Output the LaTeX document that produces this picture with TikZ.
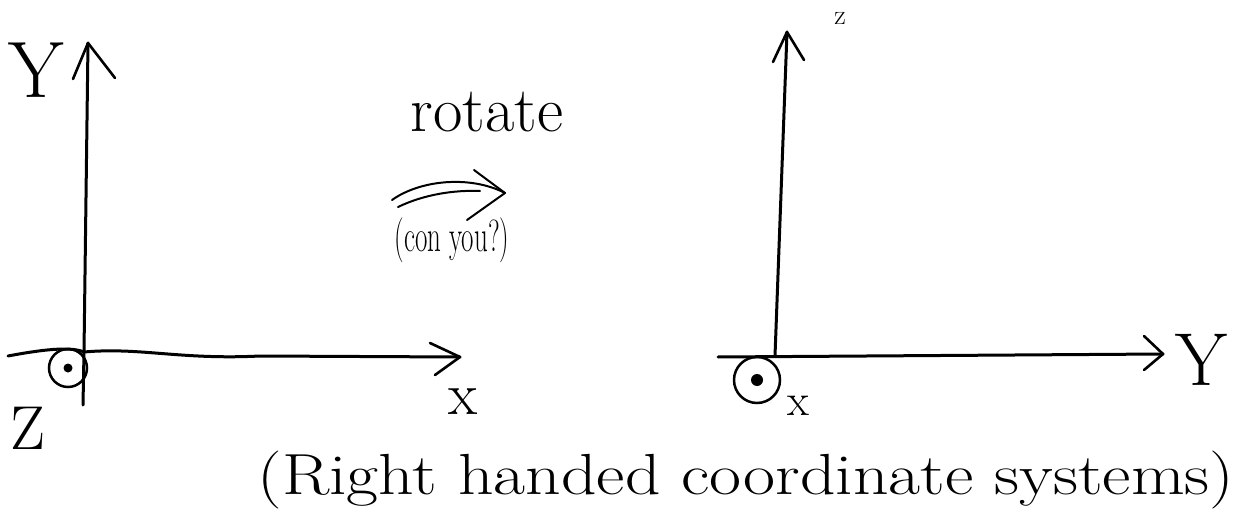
\documentclass[tikz,border=0pt]{standalone}
\begin{document}
\begin{tikzpicture}[x=1pt,y=-1pt,
  axis/.style={line width=3pt,line cap=round,line join=round},
  head/.style={line width=2.6pt,line cap=round,line join=round},
  lbl/.style={inner sep=0pt,font=\fontsize{#1}{#1}\selectfont},
  lbl/.default=50]
\useasboundingbox (0,0) rectangle (1251,524);
% ---------- left system ----------
\coordinate (o1) at (84,352);
\coordinate (y1top) at (88,43);
\coordinate (y1bot) at (83,405);
\coordinate (x1left) at (8,356);
\coordinate (x1tip) at (460,357);
\draw[axis] (y1bot) -- (o1) -- (y1top);
\draw[head] (73,79) -- (y1top) -- (115,78);
\draw[axis] (x1left) .. controls (40,350) and (70,346) .. (o1)
  .. controls (140,347) and (180,360) .. (260,356) -- (x1tip);
\draw[head] (430,343) -- (x1tip) -- (435,375);
\node[circle,draw,line width=2.5pt,minimum size=38pt,inner sep=0pt] (c1) at (68,368) {};
\fill (c1.center) circle[radius=4.5];
\node[lbl=80] (Y1) at (36,70) {Y};
\node[lbl=62] (Z1) at (28,428) {Z};
\node[lbl=60] (X1) at (463,402) {x};
% ---------- rotate arrow ----------
\node[lbl=64] (rot) at (487,112) {rotate};
\coordinate (ra) at (392,200);
\coordinate (rb) at (505,193);
\draw[head,line width=2pt] (ra) .. controls (420,180) and (470,175) .. (rb);
\draw[head,line width=2pt] (398,207) .. controls (425,194) and (455,190) .. (480,191);
\draw[head,line width=2pt] (474,170) -- (rb) -- (467,220);
\node[lbl=30] (can) at (452,240) {\scalebox{0.9}[1.5]{(con you?)}};
% ---------- right system ----------
\coordinate (o2) at (775,356);
\coordinate (z2top) at (787,32);
\coordinate (y2left) at (718,357);
\coordinate (y2tip) at (1163,354);
\draw[axis] (o2) -- (z2top);
\draw[head] (773,62) -- (z2top) -- (804,60);
\draw[axis] (y2left) -- (y2tip);
\draw[head] (1144,336) -- (y2tip) -- (1144,370);
\node[circle,draw,line width=2.5pt,minimum size=46pt,inner sep=0pt] (c2) at (757,380) {};
\fill (c2.center) circle[radius=6];
\node[lbl=75] (Y2) at (1201,360) {Y};
\node[lbl=45] (X2) at (798,406) {x};
\node[lbl=28] (Z2) at (840,18) {z};
% ---------- caption ----------
\node[lbl=58] (cap) at (746,480) {\scalebox{1.2}[1]{(Right handed coordinate systems)}};
\end{tikzpicture}
\end{document}
